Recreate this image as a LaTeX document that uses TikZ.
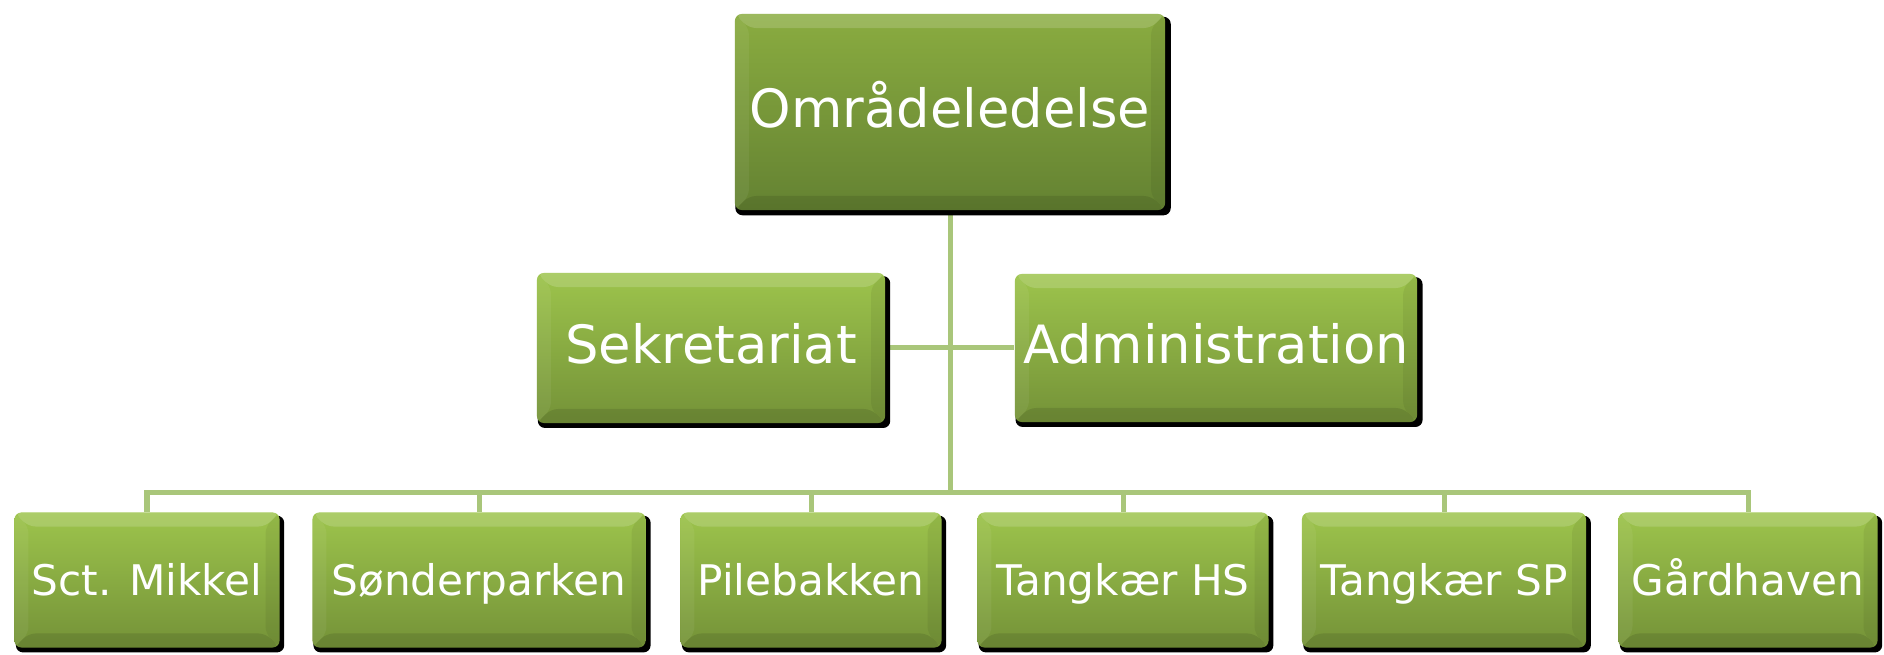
\documentclass[tikz,border=0pt]{standalone}
\usepackage{fontspec}
\setmainfont{DejaVu Sans}
\usetikzlibrary{shadows}
\usetikzlibrary{backgrounds}

\definecolor{boxtop}{RGB}{157,196,76}
\definecolor{boxbot}{RGB}{116,146,56}
\definecolor{leadtop}{RGB}{138,172,64}
\definecolor{leadbot}{RGB}{100,130,50}
\definecolor{linegreen}{RGB}{169,198,122}

\tikzset{
    unit/.style={rectangle, rounded corners=2pt, text=white, inner sep=0pt,
        text height=1.6ex, text depth=0ex,
        top color=boxtop, bottom color=boxbot,
        general shadow={fill=black, shadow xshift=.03cm, shadow yshift=-.04cm, shadow scale=1.012},
        path picture={
            \fill[white,opacity=.16] (path picture bounding box.north west) -- (path picture bounding box.north east)
                -- ([xshift=-4pt,yshift=-4pt]path picture bounding box.north east) -- ([xshift=4pt,yshift=-4pt]path picture bounding box.north west) -- cycle;
            \fill[white,opacity=.06] (path picture bounding box.north west) -- (path picture bounding box.south west)
                -- ([xshift=4pt,yshift=4pt]path picture bounding box.south west) -- ([xshift=4pt,yshift=-4pt]path picture bounding box.north west) -- cycle;
            \fill[black,opacity=.10] (path picture bounding box.south west) -- (path picture bounding box.south east)
                -- ([xshift=-4pt,yshift=4pt]path picture bounding box.south east) -- ([xshift=4pt,yshift=4pt]path picture bounding box.south west) -- cycle;
            \fill[black,opacity=.06] (path picture bounding box.north east) -- (path picture bounding box.south east)
                -- ([xshift=-4pt,yshift=4pt]path picture bounding box.south east) -- ([xshift=-4pt,yshift=-4pt]path picture bounding box.north east) -- cycle;
        }},
    leadbox/.style={unit, top color=leadtop, bottom color=leadbot, font=\fontsize{15}{18}\selectfont},
    midbox/.style={unit, font=\fontsize{15}{18}\selectfont},
    sitebox/.style={unit, font=\fontsize{12}{14}\selectfont, minimum height=1.35cm},
    conn/.style={draw=linegreen, line width=.05cm}
}

\begin{document}
\begin{tikzpicture}[x=.01cm, y=-.01cm]
    \useasboundingbox (0,0) rectangle (1884,655);
    % Top
    \node[leadbox, minimum width=4.3cm, minimum height=1.96cm] (lead) at (950,112) {Områdeledelse};
    % Staff
    \node[midbox, minimum width=3.48cm, minimum height=1.5cm] (sek) at (711,348) {Sekretariat};
    \node[midbox, minimum width=4.02cm, minimum height=1.48cm] (adm) at (1216,348) {Administration};
    % Sites
    \node[sitebox, minimum width=2.65cm] (mik) at (147,580) {Sct. Mikkel};
    \node[sitebox, minimum width=3.33cm] (son) at (479,580) {Sønderparken};
    \node[sitebox, minimum width=2.61cm] (pil) at (811,580) {Pilebakken};
    \node[sitebox, minimum width=2.91cm] (ths) at (1123,580) {Tangkær HS};
    \node[sitebox, minimum width=2.84cm] (tsp) at (1444,580) {Tangkær SP};
    \node[sitebox, minimum width=2.59cm] (gaa) at (1748,580) {Gårdhaven};
    \coordinate (bus) at (950,493);
    % Lines
    \begin{scope}[on background layer]
        \draw[conn] (lead.south) -- (bus);
        \draw[conn] (sek.east) -- (adm.west);
        \draw[conn] (mik.north) |- (bus);
        \draw[conn] (son.north) |- (bus);
        \draw[conn] (pil.north) |- (bus);
        \draw[conn] (ths.north) |- (bus);
        \draw[conn] (tsp.north) |- (bus);
        \draw[conn] (gaa.north) |- (bus);
    \end{scope}
\end{tikzpicture}
\end{document}
